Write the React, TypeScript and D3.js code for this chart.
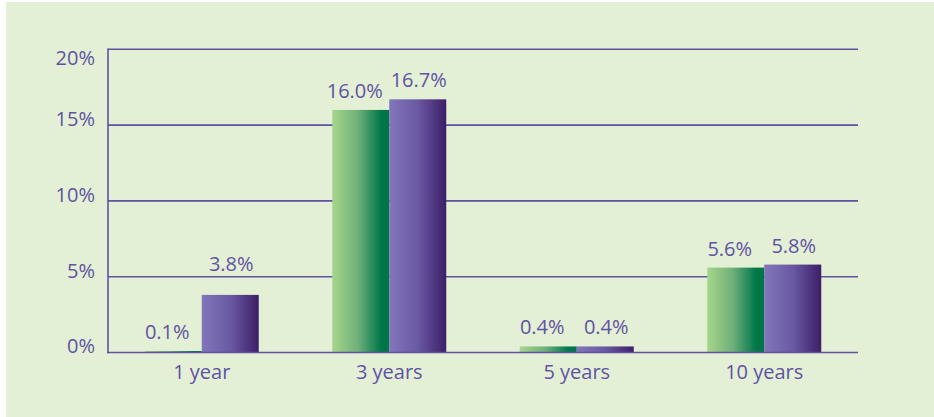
import React from "react";
import * as d3 from "d3";

const categories = ["1 year", "3 years", "5 years", "10 years"];
const seriesNames = ["A", "B"];
const seriesA = [0.1, 16.0, 0.4, 5.6];
const seriesB = [3.8, 16.7, 0.4, 5.8];
const tickValues = [0, 5, 10, 15, 20];
const tickLabels = ["0%", "5%", "10%", "15%", "20%"];

const W = 934;
const H = 417;
const left = 108;
const right = 858;
const top = 49.3;
const bottom = 352.5;
const textColor = "#6053a3";
const lineColor = "#5f52a3";
const font = "'Open Sans', 'Noto Sans', sans-serif";
const fs = 20;

export default function App() {
  const y = d3.scaleLinear().domain([0, 20]).range([bottom, top]);
  const x0 = d3.scaleBand<string>().domain(categories).range([left, right]).paddingInner(0.392).paddingOuter(0.196);
  const x1 = d3.scaleBand<string>().domain(seriesNames).range([0, x0.bandwidth()]);
  const values = [seriesA, seriesB];
  const grads = ["gGreen", "gPurple"];
  const labelShift = [-6, 1];
  const capH = 14.5;

  const labelBaseline = (v: number) => {
    let b = y(v) - 12;
    for (const t of tickValues) {
      const gy = y(t);
      if (gy < b && gy > b - capH) {
        b = gy - 6;
      }
    }
    return b;
  };

  return (
    <svg width={W} height={H} style={{ position: "absolute", left: 0, top: 0 }}>
      <defs>
        <linearGradient id="gGreen" x1="0" x2="1" y1="0" y2="0">
          <stop offset="0" stopColor="#a7d58b" />
          <stop offset="0.45" stopColor="#6fb07a" />
          <stop offset="0.85" stopColor="#00784a" />
          <stop offset="1" stopColor="#007346" />
        </linearGradient>
        <linearGradient id="gPurple" x1="0" x2="1" y1="0" y2="0">
          <stop offset="0" stopColor="#8276ba" />
          <stop offset="0.5" stopColor="#6a59a3" />
          <stop offset="1" stopColor="#3c1f66" />
        </linearGradient>
      </defs>
      <rect x={0} y={0} width={W} height={H} fill="#ffffff" />
      <rect x={6} y={2} width={W - 6} height={H - 2} fill="#e4f0d5" />
      {tickValues.map((t) =>
        t === 0 ? null : (
          <line key={"g" + t} x1={left} x2={right} y1={y(t)} y2={y(t)} stroke={lineColor} strokeWidth={1.6} />
        )
      )}
      <line x1={left} x2={left} y1={top - 0.8} y2={bottom + 0.8} stroke={lineColor} strokeWidth={1.6} />
      {tickValues.map((t, i) => {
        const cy = i === tickValues.length - 1 ? y(t) + 8.2 : y(t) - 6.3;
        return (
          <text key={"t" + t} x={95} y={cy + capH / 2} textAnchor="end" fontFamily={font} fontSize={fs} fill={textColor}>
            {tickLabels[i]}
          </text>
        );
      })}
      {categories.map((c, ci) => (
        <g key={c} transform={`translate(${x0(c)},0)`}>
          {seriesNames.map((s, si) => {
            const v = values[si][ci];
            const bx = x1(s)!;
            const bw = x1.bandwidth();
            return (
              <g key={s}>
                <rect x={bx} y={y(v)} width={bw} height={bottom - y(v)} fill={`url(#${grads[si]})`} />
                <text x={bx + bw / 2 + labelShift[si]} y={labelBaseline(v)} textAnchor="middle" fontFamily={font} fontSize={fs} fill={textColor}>
                  {v.toFixed(1)}%
                </text>
              </g>
            );
          })}
          <text x={x0.bandwidth() / 2} y={379} textAnchor="middle" fontFamily={font} fontSize={fs} fill={textColor}>
            {c}
          </text>
        </g>
      ))}
      <line x1={left - 0.8} x2={right} y1={bottom} y2={bottom} stroke={lineColor} strokeWidth={1.6} />
    </svg>
  );
}
